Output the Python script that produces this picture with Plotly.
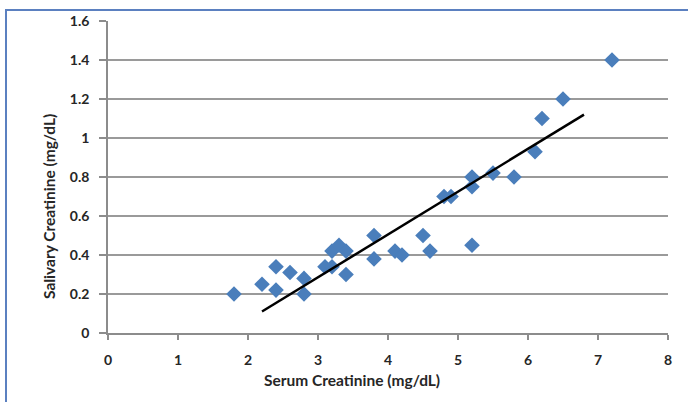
import plotly.graph_objects as go

serum = [1.8, 2.2, 2.4, 2.4, 2.6, 2.8, 2.8, 3.1, 3.2, 3.2, 3.3, 3.4, 3.4,
         3.8, 3.8, 4.1, 4.2, 4.5, 4.6, 4.8, 4.9, 5.2, 5.2, 5.2, 5.5, 5.8,
         6.1, 6.2, 6.5, 7.2]
salivary = [0.20, 0.25, 0.34, 0.22, 0.31, 0.28, 0.20, 0.34, 0.34, 0.42, 0.45, 0.42, 0.30,
            0.50, 0.38, 0.42, 0.40, 0.50, 0.42, 0.70, 0.70, 0.45, 0.75, 0.80, 0.82, 0.80,
            0.93, 1.10, 1.20, 1.40]
trend_x = [2.2, 6.8]
trend_y = [0.11, 1.12]

x_ticks = [0, 1, 2, 3, 4, 5, 6, 7, 8]
y_ticks = [0, 0.2, 0.4, 0.6, 0.8, 1.0, 1.2, 1.4, 1.6]
y_labels = ["0", "0.2", "0.4", "0.6", "0.8", "1", "1.2", "1.4", "1.6"]

W, H = 688, 402
L, R, T, B = 108, 20, 21, 69
pw, ph = W - L - R, H - T - B

def px_x(p):
    return (p - L) / pw

def px_y(p):
    return (H - B - p) / ph

fig = go.Figure()
fig.add_trace(go.Scatter(x=serum, y=salivary, mode="markers",
                         marker=dict(symbol="diamond", size=12, color="#4A7EBB"),
                         showlegend=False, cliponaxis=False))
fig.add_trace(go.Scatter(x=trend_x, y=trend_y, mode="lines",
                         line=dict(color="black", width=2.5), showlegend=False))

tickfont = dict(family="Lato", size=14, color="#262626", weight="bold")
titlefont = dict(family="Lato", size=15.5, color="#262626", weight="bold")
fig.update_layout(
    width=W, height=H,
    margin=dict(l=L, r=R, t=T, b=B),
    paper_bgcolor="white", plot_bgcolor="white",
    xaxis=dict(range=[0, 8], tickvals=x_ticks, showgrid=False, zeroline=False,
               showline=True, linecolor="#8C8C8C", linewidth=1.5,
               ticks="outside", ticklen=5, tickcolor="#8C8C8C", tickwidth=1.5,
               tickfont=tickfont, ticklabelstandoff=8),
    yaxis=dict(range=[0, 1.6], tickvals=y_ticks, ticktext=y_labels,
               showgrid=True, gridcolor="#9A9A9A", gridwidth=1.5, zeroline=False,
               showline=True, linecolor="#8C8C8C", linewidth=1.5,
               ticks="outside", ticklen=7, tickcolor="#8C8C8C", tickwidth=1.5,
               tickfont=tickfont, ticklabelstandoff=7),
    shapes=[dict(type="rect", xref="paper", yref="paper",
                 x0=px_x(6), x1=px_x(720), y0=px_y(430), y1=px_y(10),
                 line=dict(color="#5B80C0", width=2), layer="below")],
    annotations=[
        dict(text="Serum Creatinine (mg/dL)", xref="paper", yref="paper",
             x=px_x(352), y=px_y(391), showarrow=False, font=titlefont),
        dict(text="Salivary Creatinine (mg/dL)", xref="paper", yref="paper",
             x=px_x(38), y=px_y(207), showarrow=False, textangle=-90, font=titlefont),
    ],
)
fig.write_html("out.html", config={"displayModeBar": False},
               post_script="document.body.style.margin='0';document.body.style.padding='0';")
